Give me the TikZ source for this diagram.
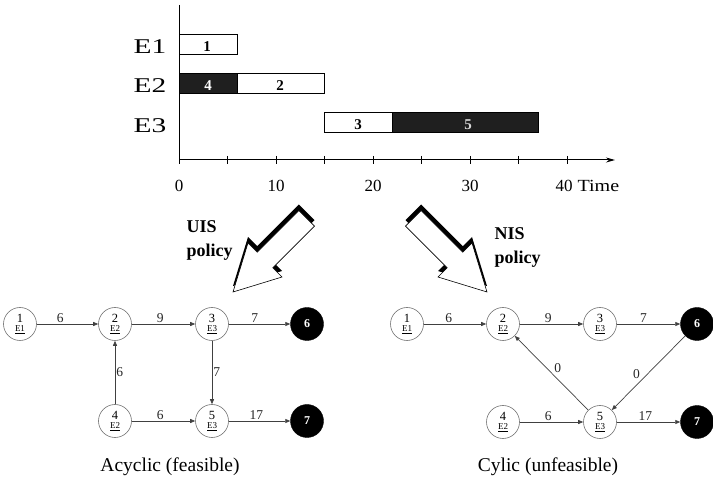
\documentclass[tikz,border=0pt]{standalone}
\usepackage{fontspec}
\setmainfont{Liberation Serif}
\usetikzlibrary{arrows.meta}
\newcommand{\gnlab}[2]{{\fontsize{12.5}{11}\selectfont #1}\\[-3pt]{\fontsize{9}{9}\selectfont\underline{#2}}}
\begin{document}
\begin{tikzpicture}[x=1pt,y=-1pt,
  gnode/.style={circle,draw=black!55,line width=0.6pt,fill=white,minimum size=33pt,inner sep=0pt,align=center},
  enode/.style={circle,fill=black,draw=black,minimum size=33pt,inner sep=0pt,text=white,font=\fontsize{12}{12}\selectfont\bfseries},
  edge/.style={draw=black!75,line width=0.7pt,-{Triangle[length=5pt,width=4pt]}},
  elab/.style={font=\fontsize{13.5}{13}\selectfont,inner sep=1pt,text=black!85},
  bar/.style={draw=black,line width=0.7pt},
  blackbar/.style={draw=black,fill=black!88,line width=0.7pt},
  ylab/.style={font=\fontsize{21}{21}\selectfont},
  tlab/.style={font=\fontsize{17}{17}\selectfont},
  blab/.style={font=\fontsize{15}{15}\selectfont\bfseries},
  pol/.style={align=left,anchor=west,font=\fontsize{18}{24}\selectfont\bfseries},
  captxt/.style={font=\fontsize{19.5}{20}\selectfont},
]
\useasboundingbox (0,0) rectangle (713,478);

% ---------- Gantt chart ----------
\draw[bar] (179,34) rectangle (237.2,54);
\draw[blackbar] (179,73) rectangle (237.2,93);
\draw[bar] (237.2,73) rectangle (324.5,93);
\draw[bar] (324.5,112) rectangle (392.4,132);
\draw[blackbar] (392.4,112) rectangle (537.9,132);

\node[blab] (b1) at (207,47) {1};
\node[blab,text=white] (b4) at (208,86) {4};
\node[blab] (b2) at (280,86) {2};
\node[blab] (b3) at (358,125) {3};
\node[blab,text=white!85!black] (b5) at (468,125) {5};

\draw[line width=1pt] (179,5) -- (179,160);
\draw[line width=1pt,-{Stealth[length=9pt,width=5pt]}] (179,160) -- (615,160);
\foreach \i in {0,...,8} \draw[line width=0.7pt] (179+48.5*\i,156) -- (179+48.5*\i,164);

\node[ylab] (e1) at (150,47) {\scalebox{1.4}[1]{E1}};
\node[ylab] (e2) at (150,86) {\scalebox{1.4}[1]{E2}};
\node[ylab] (e3) at (150,126) {\scalebox{1.4}[1]{E3}};

\node[tlab] (t0) at (179,186) {0};
\node[tlab] (t10) at (276,186) {10};
\node[tlab] (t20) at (373,186) {20};
\node[tlab] (t30) at (470,186) {30};
\node[tlab] (t40) at (564,186) {40};
\node[tlab,anchor=west] (time) at (574,186) {\scalebox{1.18}[1]{Time}};

% ---------- policy arrows ----------
\fill[black,yshift=6pt] (233,292) -- (248,243) -- (257.2,252.2) -- (298.9,210.5) -- (314.5,226.1) -- (272.8,267.8) -- (282,277) -- cycle;
\draw[fill=white,line width=0.6pt] (233,292) -- (248,243) -- (257.2,252.2) -- (298.9,210.5) -- (314.5,226.1) -- (272.8,267.8) -- (282,277) -- cycle;
\fill[black,yshift=6pt] (487,292) -- (472,243) -- (462.8,252.2) -- (421.1,210.5) -- (405.5,226.1) -- (447.2,267.8) -- (438,277) -- cycle;
\draw[fill=white,line width=0.6pt] (487,292) -- (472,243) -- (462.8,252.2) -- (421.1,210.5) -- (405.5,226.1) -- (447.2,267.8) -- (438,277) -- cycle;

\node[pol] (uis) at (183,240) {UIS\\policy};
\node[pol] (nis) at (491,247) {NIS\\policy};

% ---------- left graph ----------
\node[gnode] (l1) at (20,324) {\gnlab{1}{E1}};
\node[gnode] (l2) at (115,324) {\gnlab{2}{E2}};
\node[gnode] (l3) at (212,324) {\gnlab{3}{E3}};
\node[enode] (l6) at (307,324) {6};
\node[gnode] (l4) at (115,421) {\gnlab{4}{E2}};
\node[gnode] (l5) at (212,421) {\gnlab{5}{E3}};
\node[enode] (l7) at (307,421) {7};

\draw[edge] (l1) -- node[elab,above,pos=0.38] {6} (l2);
\draw[edge] (l2) -- node[elab,above,pos=0.45] {9} (l3);
\draw[edge] (l3) -- node[elab,above,pos=0.42] {7} (l6);
\draw[edge] (l4) -- node[elab,right] {6} (l2);
\draw[edge] (l3) -- node[elab,right] {7} (l5);
\draw[edge] (l4) -- node[elab,above,pos=0.45] {6} (l5);
\draw[edge] (l5) -- node[elab,above,pos=0.45] {17} (l7);

\node[captxt] (capl) at (170,467) {Acyclic (feasible)};

% ---------- right graph ----------
\node[gnode] (r1) at (407,324) {\gnlab{1}{E1}};
\node[gnode] (r2) at (503,324) {\gnlab{2}{E2}};
\node[gnode] (r3) at (600,324) {\gnlab{3}{E3}};
\node[enode] (r6) at (697,324) {6};
\node[gnode] (r4) at (503,422) {\gnlab{4}{E2}};
\node[gnode] (r5) at (600,422) {\gnlab{5}{E3}};
\node[enode] (r7) at (697,422) {7};

\draw[edge] (r1) -- node[elab,above,pos=0.4] {6} (r2);
\draw[edge] (r2) -- node[elab,above,pos=0.45] {9} (r3);
\draw[edge] (r3) -- node[elab,above,pos=0.42] {7} (r6);
\draw[edge] (r5) -- node[elab,above right,pos=0.48] {0} (r2);
\draw[edge] (r6) -- node[elab,above left,pos=0.6] {0} (r5);
\draw[edge] (r4) -- node[elab,above,pos=0.45] {6} (r5);
\draw[edge] (r5) -- node[elab,above,pos=0.45] {17} (r7);

\node[captxt] (capr) at (548,467) {Cylic (unfeasible)};
\end{tikzpicture}
\end{document}
